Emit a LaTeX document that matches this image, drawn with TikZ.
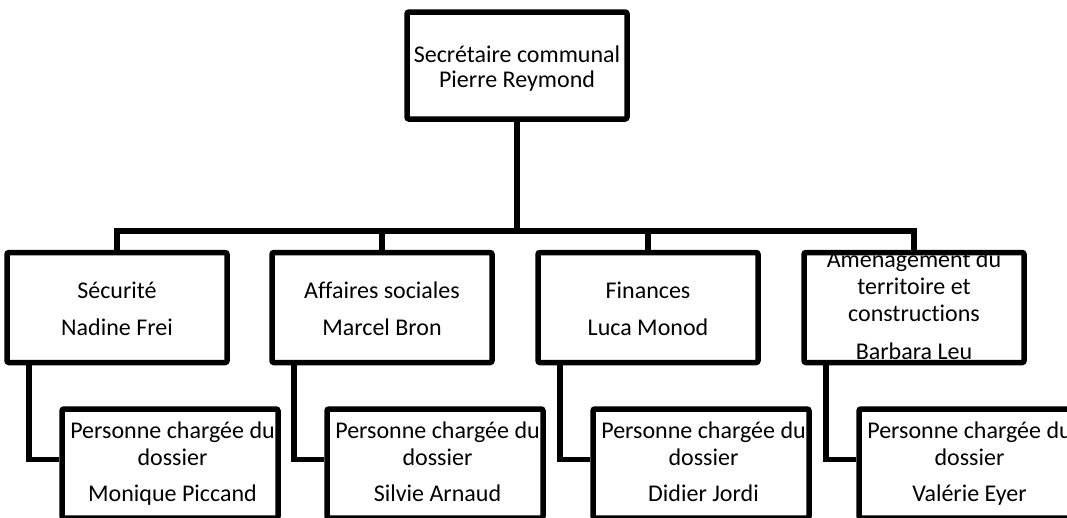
\documentclass[tikz,border=0pt]{standalone}
\usepackage{fontspec}
\setmainfont{Carlito}[Ligatures=NoCommon]
\begin{document}
\begin{tikzpicture}[x=1pt,y=-1pt,
  box/.style={draw=black, line width=5.5pt, rounded corners=2pt, fill=white, inner sep=0pt},
  topbox/.style={box, minimum width=220pt, minimum height=107pt},
  deptbox/.style={box, minimum width=220pt, minimum height=110pt},
  staffbox/.style={box, minimum width=216pt, minimum height=109pt},
  conn/.style={draw=black, line width=5.5pt},
  txt/.style={anchor=base, inner sep=0pt, font=\fontsize{24}{28}\selectfont, text=black}]
\useasboundingbox (0,0) rectangle (1067,517);
\clip (0,0) rectangle (1067,517);
\fill[white] (0,0) rectangle (1067,517);
% boxes
\node[topbox] (top) at (517,65.5) {};
\node[deptbox] (sec) at (117,307.5) {};
\node[deptbox] (aff) at (382,307.5) {};
\node[deptbox] (fin) at (648,307.5) {};
\node[deptbox] (ame) at (914,307.5) {};
\node[staffbox] (secc) at (170,463.5) {};
\node[staffbox] (affc) at (435,463.5) {};
\node[staffbox] (finc) at (701,463.5) {};
\node[staffbox] (amec) at (967,463.5) {};
\coordinate (bar) at (517,231);
% connectors
\draw[conn] (sec.north) |- (ame.north |- bar) -- (ame.north);
\draw[conn] (aff.north) -- (aff.north |- bar);
\draw[conn] (fin.north) -- (fin.north |- bar);
\draw[conn] (top.south) -- (bar);
\draw[conn] ([xshift=24.5pt]sec.south west) |- ([yshift=4pt]secc.west);
\draw[conn] ([xshift=24.5pt]aff.south west) |- ([yshift=4pt]affc.west);
\draw[conn] ([xshift=24.5pt]fin.south west) |- ([yshift=4pt]finc.west);
\draw[conn] ([xshift=24.5pt]ame.south west) |- ([yshift=4pt]amec.west);
% texts
\node[txt] (t1) at (517,62) {Secrétaire communal};
\node[txt] (t2) at (517,87) {Pierre Reymond};
\node[txt] (s1) at (117,298) {Sécurité};
\node[txt] (s2) at (117,335) {Nadine Frei};
\node[txt] (a1) at (382,298) {Affaires sociales};
\node[txt] (a2) at (382,335) {Marcel Bron};
\node[txt] (f1) at (648,298) {Finances};
\node[txt] (f2) at (648,335) {Luca Monod};
\node[txt] (m1) at (914,267) {Aménagement du};
\node[txt] (m2) at (914,294) {territoire et};
\node[txt] (m3) at (914,321) {constructions};
\node[txt] (m4) at (914,359) {Barbara Leu};
\foreach \n/\cx/\name in {sc/170/Monique Piccand, ac/435/Silvie Arnaud, fc/701/Didier Jordi, mc/967/Valérie Eyer}{
  \node[txt] (\n1) at (\cx+2.5,438.5) {Personne chargée du};
  \node[txt] (\n2) at (\cx+2.5,465) {dossier};
  \node[txt] (\n3) at (\cx+2.5,501.5) {\name};
}
\end{tikzpicture}
\end{document}
